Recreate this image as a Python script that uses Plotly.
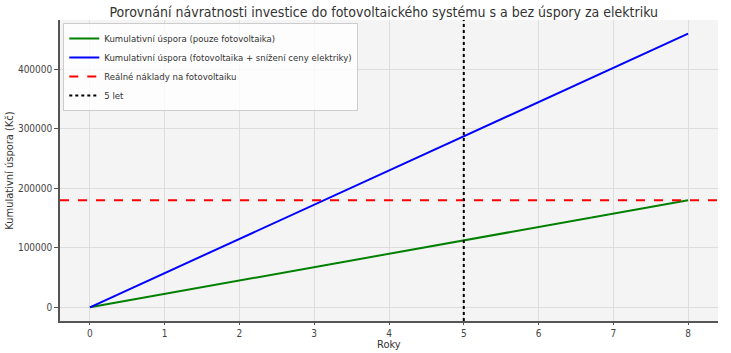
import plotly.graph_objects as go

years = [0, 1, 2, 3, 4, 5, 6, 7, 8]
pv_only = [0, 22500, 45000, 67500, 90000, 112500, 135000, 157500, 180000]
pv_plus = [0, 57500, 115000, 172500, 230000, 287500, 345000, 402500, 460000]
cost = 180000
mark_year = 5
x_ticks = [0, 1, 2, 3, 4, 5, 6, 7, 8]
y_ticks = [0, 100000, 200000, 300000, 400000]

FONT = "DejaVu Sans Condensed, Liberation Sans Narrow, DejaVu Sans"

fig = go.Figure()
fig.add_trace(go.Scatter(x=years, y=pv_only, mode="lines", name="Kumulativní úspora (pouze fotovoltaika)",
                         line=dict(color="#008000", width=2)))
fig.add_trace(go.Scatter(x=years, y=pv_plus, mode="lines", name="Kumulativní úspora (fotovoltaika + snížení ceny elektriky)",
                         line=dict(color="#0000ff", width=2)))
fig.add_shape(type="line", xref="paper", x0=0, x1=1, yref="y", y0=cost, y1=cost,
              line=dict(color="#ff0000", width=2, dash="dash"), showlegend=True,
              name="Reálné náklady na fotovoltaiku")
fig.add_shape(type="line", xref="x", x0=mark_year, x1=mark_year, yref="paper", y0=0, y1=1,
              line=dict(color="#000000", width=2, dash="dot"), showlegend=True, name="5 let")

fig.add_annotation(text="Roky", xref="paper", yref="paper", x=0.5, y=-0.078, xanchor="center",
                   yanchor="middle", showarrow=False, font=dict(size=11, color="#333"))

fig.update_layout(
    width=731, height=353,
    margin=dict(l=60, r=13, t=20, b=32),
    paper_bgcolor="white", plot_bgcolor="#f4f4f4",
    font=dict(family=FONT, size=10, color="#444"),
    title=dict(text="Porovnání návratnosti investice do fotovoltaického systému s a bez úspory za elektriku",
               x=0.525, xanchor="center", y=0.967, yanchor="middle", font=dict(size=14, color="#333")),
    legend=dict(x=0.005, y=0.99, xanchor="left", yanchor="top", bgcolor="rgba(255,255,255,0.8)",
                bordercolor="#cccccc", borderwidth=1, font=dict(size=9.5, color="#333"),
                itemwidth=30, tracegroupgap=0),
    xaxis=dict(range=[-0.4, 8.4], tickvals=x_ticks, showgrid=True, gridcolor="#dddddd", gridwidth=1,
               zeroline=False, showline=True, linecolor="#555", linewidth=1.5, ticks="outside",
               ticklen=2, tickcolor="#555", automargin=False),
    yaxis=dict(range=[-23000, 483000], tickvals=y_ticks, tickformat="d", showgrid=True, gridcolor="#dddddd",
               zeroline=False, showline=True, linecolor="#555", linewidth=1.5, ticks="outside",
               ticklen=4, tickcolor="#555", automargin=False,
               title=dict(text="Kumulativní úspora (Kč)", font=dict(size=11, color="#333"), standoff=2)),
)

fig.write_html("out.html")
